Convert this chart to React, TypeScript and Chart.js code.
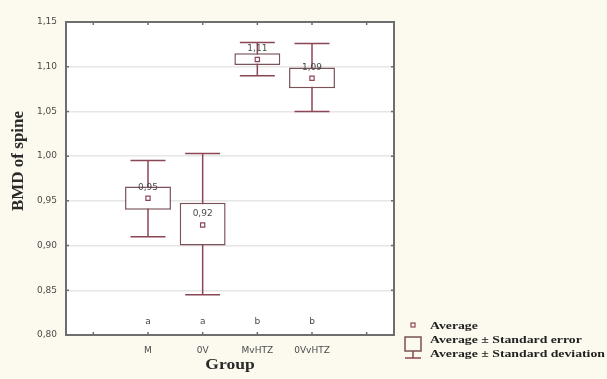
import React, { useEffect, useRef } from "react";
import { Chart, registerables } from "chart.js";

Chart.register(...registerables);

const categories = ["", "M", "0V", "MvHTZ", "0VvHTZ", ""];
const means = [null, 0.953, 0.923, 1.108, 1.087, null];
const seLow = [null, 0.940, 0.900, 1.102, 1.076, null];
const seHigh = [null, 0.966, 0.948, 1.115, 1.099, null];
const sdLow = [null, 0.910, 0.845, 1.090, 1.050, null];
const sdHigh = [null, 0.995, 1.003, 1.127, 1.126, null];
const meanLabels = ["", "0,95", "0,92", "1,11", "1,09", ""];
const groupLetters = ["", "a", "a", "b", "b", ""];
const letterLevel = 0.815;
const legendItems = ["Average", "Average ± Standard error", "Average ± Standard deviation"];
const xTitle = "Group";
const yTitle = "BMD of spine";

const BOX = "#7a5258";
const WHISK = "#8a4654";
const CREAM = "#fcf9ef";

const boxPlugin = {
  id: "boxPlugin",
  beforeDraw(chart: any) {
    const { ctx, chartArea: a } = chart;
    ctx.save();
    ctx.fillStyle = CREAM;
    ctx.fillRect(0, 0, chart.width, chart.height);
    ctx.fillStyle = "#ffffff";
    ctx.fillRect(a.left, a.top, a.right - a.left, a.bottom - a.top);
    ctx.restore();
  },
  beforeDatasetsDraw(chart: any) {
    const { ctx } = chart;
    const xs = chart.scales.x;
    const ys = chart.scales.y;
    const catW = (xs.right - xs.left) / categories.length;
    ctx.save();
    ctx.strokeStyle = WHISK;
    ctx.lineWidth = 1.5;
    for (let i = 0; i < categories.length; i++) {
      if (sdLow[i] == null) continue;
      const x = xs.getPixelForValue(i);
      const y1 = ys.getPixelForValue(sdLow[i] as number);
      const y2 = ys.getPixelForValue(sdHigh[i] as number);
      const hw = catW * 0.32;
      ctx.beginPath();
      ctx.moveTo(x, y1);
      ctx.lineTo(x, y2);
      ctx.moveTo(x - hw, y1);
      ctx.lineTo(x + hw, y1);
      ctx.moveTo(x - hw, y2);
      ctx.lineTo(x + hw, y2);
      ctx.stroke();
    }
    ctx.restore();
  },
  afterDatasetsDraw(chart: any) {
    const { ctx } = chart;
    const xs = chart.scales.x;
    const ys = chart.scales.y;
    ctx.save();
    ctx.textAlign = "center";
    ctx.textBaseline = "middle";
    ctx.fillStyle = "#4a4a4a";
    ctx.font = "9px 'DejaVu Sans', sans-serif";
    for (let i = 0; i < categories.length; i++) {
      const x = xs.getPixelForValue(i);
      if (means[i] != null) {
        ctx.fillText(meanLabels[i], x, ys.getPixelForValue(means[i] as number) - 11);
      }
      if (groupLetters[i]) {
        ctx.fillText(groupLetters[i], x, ys.getPixelForValue(letterLevel));
      }
    }
    ctx.restore();
  },
  afterDraw(chart: any) {
    const { ctx, chartArea: a } = chart;
    const xs = chart.scales.x;
    const ys = chart.scales.y;
    ctx.save();
    // frame
    ctx.strokeStyle = "#6e6e6e";
    ctx.lineWidth = 2;
    ctx.strokeRect(a.left, a.top, a.right - a.left, a.bottom - a.top);
    // inner ticks
    ctx.lineWidth = 1.5;
    ctx.beginPath();
    ys.ticks.forEach((t: any) => {
      const y = ys.getPixelForValue(t.value);
      ctx.moveTo(a.left, y);
      ctx.lineTo(a.left + 3, y);
      ctx.moveTo(a.right, y);
      ctx.lineTo(a.right - 3, y);
    });
    for (let i = 0; i < categories.length; i++) {
      const x = xs.getPixelForValue(i);
      ctx.moveTo(x, a.bottom);
      ctx.lineTo(x, a.bottom - 3);
      ctx.moveTo(x, a.top);
      ctx.lineTo(x, a.top + 3);
    }
    ctx.stroke();

    // axis titles
    ctx.fillStyle = "#2a2a2a";
    ctx.textAlign = "center";
    ctx.textBaseline = "middle";
    ctx.font = "bold 15px 'Liberation Serif', serif";
    ctx.save();
    ctx.translate((a.left + a.right) / 2, 365);
    ctx.scale(1.17, 1);
    ctx.fillText(xTitle, 0, 0);
    ctx.restore();
    ctx.save();
    ctx.translate(19, 161);
    ctx.rotate(-Math.PI / 2);
    ctx.font = "bold 17px 'Liberation Serif', serif";
    ctx.fillText(yTitle, 0, 0);
    ctx.restore();

    // legend
    const lx = a.right + 11;
    ctx.fillStyle = "#fff";
    ctx.strokeStyle = WHISK;
    ctx.lineWidth = 1.2;
    ctx.strokeRect(lx + 6, 323, 4, 4);
    ctx.strokeStyle = BOX;
    ctx.lineWidth = 1.5;
    ctx.strokeRect(lx, 337, 16, 14);
    ctx.strokeStyle = WHISK;
    ctx.beginPath();
    ctx.moveTo(lx + 8, 351);
    ctx.lineTo(lx + 8, 358);
    ctx.moveTo(lx, 358);
    ctx.lineTo(lx + 16, 358);
    ctx.stroke();
    ctx.fillStyle = "#222";
    ctx.font = "bold 11px 'Liberation Serif', serif";
    ctx.textAlign = "left";
    ctx.textBaseline = "middle";
    const ys2 = [326, 340, 354];
    legendItems.forEach((t, k) => {
      ctx.save();
      ctx.translate(lx + 25, ys2[k]);
      ctx.scale(1.25, 1);
      ctx.fillText(t, 0, 0);
      ctx.restore();
    });
    ctx.restore();
  },
};

export default function App() {
  const ref = useRef<HTMLCanvasElement>(null);
  useEffect(() => {
    if (!ref.current) return;
    const boxes = categories.map((_, i) =>
      seLow[i] == null ? null : [seLow[i], seHigh[i]]
    );
    const chart = new Chart(ref.current, {
      type: "bar",
      data: {
        labels: categories,
        datasets: [
          {
            type: "line",
            label: "Average",
            data: means as any,
            showLine: false,
            pointStyle: "rect",
            pointRadius: 3,
            borderWidth: 1.2,
            borderColor: WHISK,
            backgroundColor: "#ffffff",
            order: 1,
          } as any,
          {
            type: "bar",
            label: "SE",
            data: boxes as any,
            backgroundColor: "#ffffff",
            borderColor: BOX,
            borderWidth: 1.5,
            borderSkipped: false,
            categoryPercentage: 1,
            barPercentage: 0.84,
            order: 2,
          } as any,
        ],
      },
      options: {
        animation: false,
        responsive: false,
        events: [],
        layout: { padding: { left: 0, top: 22, right: 213, bottom: 0 } },
        plugins: { legend: { display: false }, tooltip: { enabled: false } },
        scales: {
          x: {
            type: "category",
            offset: true,
            grid: { display: false, drawTicks: false },
            border: { display: false },
            ticks: {
              padding: 10,
              color: "#4a4a4a",
              font: { size: 9, family: "'DejaVu Sans', sans-serif" },
              autoSkip: false,
              maxRotation: 0,
            },
            title: { display: false },
            afterFit(scale: any) {
              scale.height = 44;
            },
          },
          y: {
            min: 0.8,
            max: 1.15,
            grid: { color: "#e6e6e6", lineWidth: 1.5, drawTicks: false },
            border: { display: false },
            ticks: {
              stepSize: 0.05,
              padding: 9,
              color: "#4a4a4a",
              font: { size: 9, family: "'DejaVu Sans', sans-serif" },
              callback: (v: any) => Number(v).toFixed(2).replace(".", ","),
            },
            title: { display: false },
            afterFit(scale: any) {
              scale.width = 66;
            },
          },
        },
      },
      plugins: [boxPlugin],
    });
    return () => chart.destroy();
  }, []);
  return (
    <div style={{ position: "fixed", left: 0, top: 0, width: 607, height: 379, background: CREAM }}>
      <canvas ref={ref} width={607} height={379} style={{ width: 607, height: 379, display: "block" }} />
    </div>
  );
}
